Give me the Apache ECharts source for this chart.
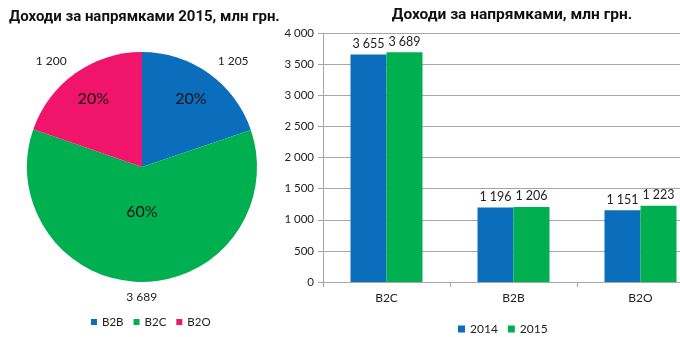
<!DOCTYPE html>
<html><head><meta charset="utf-8">
<script src="https://cdn.jsdelivr.net/npm/echarts@6/dist/echarts.min.js"></script>
<style>html,body{margin:0;padding:0;background:#fff;overflow:hidden;width:680px;height:337px}#c{width:704px;height:337px}</style>
</head><body><div id="c"></div>
<script>
const pieTitle = 'Доходи за напрямками 2015, млн грн.';
const barTitle = 'Доходи за напрямками, млн грн.';
const pieNames = ['B2B', 'B2C', 'B2O'];
const pieValues = [1205, 3689, 1200];
const pieColors = ['#0a6ebd', '#00b050', '#f0146a'];
const barCategories = ['B2C', 'B2B', 'B2O'];
const series2014 = [3655, 1196, 1151];
const series2015 = [3689, 1206, 1223];
const barSeriesNames = ['2014', '2015'];
const yTicks = {min: 0, max: 4000, interval: 500};

const FONT = 'Lato';
const TFONT = 'Roboto';
function fmt(v){ return String(v).replace(/\B(?=(\d{3})+(?!\d))/g, ' '); }

const chart = echarts.init(document.getElementById('c'), null, {renderer: 'canvas'});
const pieCenter = [142, 167];
const pieR = 115;
const pieData = pieNames.map((n, i) => ({name: n, value: pieValues[i], itemStyle: {color: pieColors[i]}}));
const pieTotal = pieValues.reduce((a, b) => a + b, 0);
function midAngle(idx){
  let before = 0;
  for (let i = 0; i < idx; i++) before += pieValues[i];
  const frac = (before + pieValues[idx] / 2) / pieTotal;
  return (90 - frac * 360) * Math.PI / 180;
}

chart.setOption({
  animation: false,
  textStyle: {fontFamily: FONT},
  title: [
    {text: pieTitle, left: 4, top: 5, textStyle: {fontFamily: TFONT, fontWeight: 'bold', fontSize: 15, color: '#111'}},
    {text: barTitle, left: 507, top: 2, textAlign: 'center', textStyle: {fontFamily: TFONT, fontWeight: 'bold', fontSize: 15.5, color: '#111'}}
  ],
  legend: [
    {data: pieNames, left: 86, top: 311, itemWidth: 6, itemHeight: 6, itemGap: 10, icon: 'rect',
     textStyle: {fontFamily: FONT, fontSize: 11.5, color: '#222'}},
    {data: barSeriesNames, left: 453, top: 318, itemWidth: 7, itemHeight: 7, itemGap: 10, icon: 'rect',
     textStyle: {fontFamily: FONT, fontSize: 12, color: '#222'}}
  ],
  grid: {left: 323, top: 33, right: 0, bottom: 55, containLabel: false},
  xAxis: {
    type: 'category', data: barCategories,
    axisLine: {lineStyle: {color: '#a6a6a6'}},
    axisTick: {show: true, length: 5, lineStyle: {color: '#a6a6a6'}},
    axisLabel: {fontFamily: FONT, fontSize: 12, color: '#222', margin: 10}
  },
  yAxis: {
    type: 'value', min: yTicks.min, max: yTicks.max, interval: yTicks.interval,
    axisLine: {show: true, lineStyle: {color: '#a6a6a6'}},
    axisTick: {show: true, length: 5, lineStyle: {color: '#a6a6a6'}},
    splitLine: {lineStyle: {color: '#a6a6a6'}},
    axisLabel: {fontFamily: FONT, fontSize: 11.5, color: '#222', margin: 9, formatter: v => fmt(v)}
  },
  series: [
    {
      type: 'pie', name: 'pie', center: pieCenter, radius: pieR, startAngle: 90, clockwise: true,
      percentPrecision: 0, data: pieData, silent: true,
      itemStyle: {borderWidth: 0},
      label: {position: 'inside', fontFamily: FONT, fontSize: 16, color: '#111',
        formatter: p => p.percent + '%'},
      labelLine: {show: false},
      labelLayout: function(p){
        const a = midAngle(p.dataIndex);
        const d = p.dataIndex === 1 ? 45 : 84;
        return {x: pieCenter[0] + d * Math.cos(a), y: pieCenter[1] - d * Math.sin(a), align: 'center', verticalAlign: 'middle'};
      }
    },
    {
      type: 'pie', name: 'pieValues', center: pieCenter, radius: pieR, startAngle: 90, clockwise: true,
      data: pieData.map(d => ({name: d.name, value: d.value, itemStyle: {color: 'rgba(0,0,0,0)'}})),
      silent: true, legendHoverLink: false,
      label: {position: 'outside', fontFamily: FONT, fontSize: 12, color: '#222', formatter: p => fmt(p.value)},
      labelLine: {show: false, length: 8, length2: 0},
      labelLayout: function(p){
        const a = midAngle(p.dataIndex);
        const d = 130;
        const c = Math.cos(a);
        const align = Math.abs(c) < 0.2 ? 'center' : (c > 0 ? 'left' : 'right');
        return {x: pieCenter[0] + d * c, y: pieCenter[1] - d * Math.sin(a), align: align, verticalAlign: 'middle'};
      }
    },
    {
      type: 'bar', name: barSeriesNames[0], data: series2014, barWidth: 36, barGap: '0%',
      itemStyle: {color: pieColors[0]},
      label: {show: true, position: 'top', distance: 4, fontFamily: FONT, fontSize: 12.5, color: '#222', formatter: p => fmt(p.value)}
    },
    {
      type: 'bar', name: barSeriesNames[1], data: series2015, barWidth: 36, barGap: '0%',
      itemStyle: {color: pieColors[1]},
      label: {show: true, position: 'top', distance: 4, fontFamily: FONT, fontSize: 12.5, color: '#222', formatter: p => fmt(p.value)}
    }
  ]
});
</script></body></html>
